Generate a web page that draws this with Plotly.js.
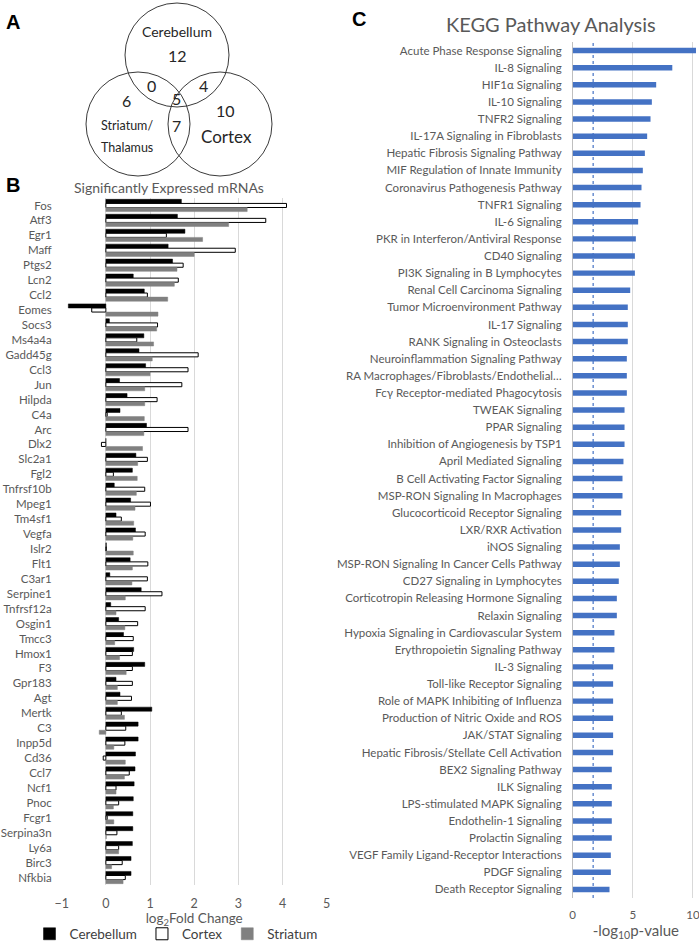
<!DOCTYPE html>
<html><head><meta charset="utf-8">
<script src="https://cdn.plot.ly/plotly-3.0.1.min.js"></script>
<style>body{margin:0;background:#fff}#chart{width:699px;height:943px}</style>
</head><body><div id="chart"></div>
<script>
// ---------- Panel A: Venn counts ----------
const vennRegionNames = ['Cerebellum only', 'Cerebellum∩Striatum', 'Cerebellum∩Cortex', 'All three', 'Striatum only', 'Striatum∩Cortex', 'Cortex only'];
const vennCounts = [12, 0, 4, 5, 6, 7, 10];

// ---------- Panel B: log2 fold change ----------
const genes = ['Fos','Atf3','Egr1','Maff','Ptgs2','Lcn2','Ccl2','Eomes','Socs3','Ms4a4a','Gadd45g','Ccl3','Jun','Hilpda','C4a','Arc','Dlx2','Slc2a1','Fgl2','Tnfrsf10b','Mpeg1','Tm4sf1','Vegfa','Islr2','Flt1','C3ar1','Serpine1','Tnfrsf12a','Osgin1','Tmcc3','Hmox1','F3','Gpr183','Agt','Mertk','C3','Inpp5d','Cd36','Ccl7','Ncf1','Pnoc','Fcgr1','Serpina3n','Ly6a','Birc3','Nfkbia'];
const cerebellum = [1.71,1.62,1.79,1.41,1.51,0.62,0.87,-0.85,0.08,0.86,0.75,0.90,0.31,0.48,0.32,0.92,0.0,0.68,0.60,0.19,0.56,0.23,0.67,0.01,0.55,0.09,0.80,0.11,0.29,0.40,0.63,0.88,0.23,0.32,1.04,0.73,0.73,0.67,0.66,0.64,0.62,0.61,0.61,0.60,0.57,0.57];
const cortex     = [4.09,3.62,1.37,2.93,1.75,1.64,0.94,-0.32,1.17,0.70,2.09,1.86,1.72,1.16,0.03,1.86,-0.10,0.94,0.17,0.88,1.01,0.35,0.89,0.01,0.95,0.94,1.27,0.89,0.72,0.62,0.60,0.60,0.60,0.58,0.35,0.45,0.43,-0.06,0.53,0.23,0.29,0.03,0.25,0.29,0.37,0.44];
const striatum   = [3.20,2.78,2.19,2.00,1.61,1.55,1.40,1.18,1.15,1.08,1.05,1.00,0.88,0.88,0.87,0.86,0.83,0.72,0.71,0.69,0.66,0.63,0.61,0.62,0.60,0.59,0.44,0.23,0.43,0.20,0.31,0.46,0.26,0.26,0.42,-0.15,0.18,0.44,0.42,0.23,0.17,0.18,0.01,0.29,0.13,0.39];

// ---------- Panel C: KEGG pathways ----------
const pathways = ['Acute Phase Response Signaling','IL-8 Signaling','HIF1α Signaling','IL-10 Signaling','TNFR2 Signaling','IL-17A Signaling in Fibroblasts','Hepatic Fibrosis Signaling Pathway','MIF Regulation of Innate Immunity','Coronavirus Pathogenesis Pathway','TNFR1 Signaling','IL-6 Signaling','PKR in Interferon/Antiviral Response','CD40 Signaling','PI3K Signaling in B Lymphocytes','Renal Cell Carcinoma Signaling','Tumor Microenvironment Pathway','IL-17 Signaling','RANK Signaling in Osteoclasts','Neuroinflammation Signaling Pathway','RA Macrophages/Fibroblasts/Endothelial…','Fcγ Receptor-mediated Phagocytosis','TWEAK Signaling','PPAR Signaling','Inhibition of Angiogenesis by TSP1','April Mediated Signaling','B Cell Activating Factor Signaling','MSP-RON Signaling In Macrophages','Glucocorticoid Receptor Signaling','LXR/RXR Activation','iNOS Signaling','MSP-RON Signaling In Cancer Cells Pathway','CD27 Signaling in Lymphocytes','Corticotropin Releasing Hormone Signaling','Relaxin Signaling','Hypoxia Signaling in Cardiovascular System','Erythropoietin Signaling Pathway','IL-3 Signaling','Toll-like Receptor Signaling','Role of MAPK Inhibiting of Influenza','Production of Nitric Oxide and ROS','JAK/STAT Signaling','Hepatic Fibrosis/Stellate Cell Activation','BEX2 Signaling Pathway','ILK Signaling','LPS-stimulated MAPK Signaling','Endothelin-1 Signaling','Prolactin Signaling','VEGF Family Ligand-Receptor Interactions','PDGF Signaling','Death Receptor Signaling'];
const negLogP = [10.25,8.28,6.94,6.58,6.47,6.19,6.00,5.83,5.72,5.64,5.44,5.25,5.17,5.17,4.78,4.58,4.58,4.58,4.50,4.50,4.50,4.31,4.31,4.31,4.22,4.14,4.14,4.03,4.03,3.92,3.92,3.83,3.67,3.67,3.47,3.47,3.36,3.36,3.36,3.36,3.36,3.36,3.25,3.25,3.25,3.25,3.25,3.17,3.17,3.06];
const significanceLine = [1.7];

// ---------- geometry helpers ----------
const W = 699, H = 943;
const px = x => x / W;
const py = y => 1 - y / H;
const grey = '#595959';
const FONT = 'Lato, "Open Sans", sans-serif';

const traces = [
  {type:'bar', orientation:'h', name:'Cerebellum', y:genes, x:cerebellum, xaxis:'x', yaxis:'y',
   marker:{color:'#000000', line:{color:'#000000', width:0.5}}},
  {type:'bar', orientation:'h', name:'Cortex', y:genes, x:cortex, xaxis:'x', yaxis:'y',
   marker:{color:'#ffffff', line:{color:'#000000', width:1}}},
  {type:'bar', orientation:'h', name:'Striatum', y:genes, x:striatum, xaxis:'x', yaxis:'y',
   marker:{color:'#808080', line:{color:'#808080', width:0.5}}},
  {type:'bar', orientation:'h', name:'-log10 p', y:pathways, x:negLogP, xaxis:'x2', yaxis:'y2',
   width:0.32, showlegend:false, marker:{color:'#4472C4'}}
];

// Venn circles
const circles = [
  {cx:177, cy:55, r:52},
  {cx:138, cy:124, r:52},
  {cx:220, cy:124, r:52}
];
const shapes = circles.map(c => ({type:'circle', xref:'paper', yref:'paper',
  x0:px(c.cx-c.r), x1:px(c.cx+c.r), y0:py(c.cy+c.r), y1:py(c.cy-c.r),
  line:{color:'#3a3a3a', width:1}, fillcolor:'rgba(0,0,0,0)'}));
shapes.push({type:'line', xref:'x2', yref:'paper', x0:significanceLine[0], x1:significanceLine[0],
  y0:py(898), y1:py(42), line:{color:'#4472C4', width:1.2, dash:'dot'}});

const vennPos = [[177,55],[151,86],[203,86],[176,98],[127,100],[176,125],[225,110]];
const annotations = [];
const ann = (text, x, y, size, opts={}) => annotations.push(Object.assign({
  text, x:px(x), y:py(y), xref:'paper', yref:'paper', showarrow:false,
  xanchor:'center', yanchor:'middle', font:{family:FONT, size, color:'#262626'}}, opts));

ann('Cerebellum', 177, 31, 14);
ann('Striatum/', 127, 126, 12.5);
ann('Thalamus', 127, 147, 12.5);
ann('Cortex', 227, 136, 17);
vennCounts.forEach((v,i) => ann(String(v), vennPos[i][0], vennPos[i][1], 16));

const bold = {family:'Liberation Sans, Arial', size:20, color:'#000'};
ann('<b>A</b>', 13, 22, 20, {font:bold});
ann('<b>B</b>', 13, 185, 20, {font:bold});
ann('<b>C</b>', 359, 19, 20, {font:bold});
ann('Significantly Expressed mRNAs', 169, 188, 14, {font:{family:FONT, size:14, color:grey}});
ann('KEGG Pathway Analysis', 551, 24, 20, {font:{family:FONT, size:20, color:grey}});

const layout = {
  width:W, height:H, margin:{l:0,r:0,t:0,b:0, autoexpand:false},
  paper_bgcolor:'#fff', plot_bgcolor:'#fff',
  font:{family:FONT, color:grey},
  barmode:'group', bargap:0.18, bargroupgap:0,
  showlegend:true,
  legend:{orientation:'h', x:px(176), y:py(934), xanchor:'center', yanchor:'middle',
    font:{family:FONT, size:13.5, color:'#404040'}, traceorder:'normal', itemwidth:30,
    bgcolor:'rgba(0,0,0,0)', borderwidth:0},
  xaxis:{domain:[px(61.7), px(326.7)], range:[-1,5], dtick:1, showgrid:true, gridcolor:'#d9d9d9',
    zeroline:true, zerolinecolor:'#d9d9d9', zerolinewidth:1, showline:false, ticks:'',
    tickfont:{family:FONT, size:12.5, color:grey}, ticklabelstandoff:9, anchor:'y',
    title:{text:'log<sub>2</sub>Fold Change', font:{family:FONT, size:13.5, color:grey}, standoff:2}},
  yaxis:{domain:[py(885), py(198)], type:'category', autorange:'reversed', showgrid:false,
    zeroline:false, showline:false, ticks:'', tickfont:{family:FONT, size:11.5, color:grey},
    ticklabelstandoff:9, anchor:'x'},
  xaxis2:{domain:[px(572.7), 1], range:[0,10.5], tickvals:[0,5,10], showgrid:true, gridcolor:'#d9d9d9',
    zeroline:true, zerolinecolor:'#bfbfbf', showline:false, ticks:'', ticklabeloverflow:'allow',
    tickfont:{family:FONT, size:11.5, color:grey}, ticklabelstandoff:8, anchor:'y2',
    title:{text:'-log<sub>10</sub>p-value', font:{family:FONT, size:15, color:grey}, standoff:1}},
  yaxis2:{domain:[py(898), py(42)], type:'category', autorange:'reversed', showgrid:false,
    zeroline:false, showline:false, ticks:'', tickfont:{family:FONT, size:11.5, color:grey},
    ticklabelstandoff:10, anchor:'x2'},
  shapes, annotations
};

Plotly.newPlot('chart', traces, layout, {displayModeBar:false, staticPlot:true});
</script>
</body></html>
